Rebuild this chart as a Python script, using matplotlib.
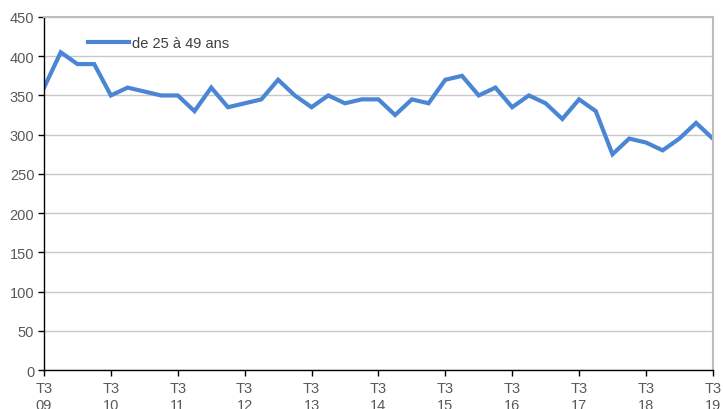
import matplotlib.pyplot as plt

plt.rcParams['font.family'] = ['Liberation Sans', 'DejaVu Sans']

# quarterly values, T3 2009 -> T3 2019
values = [360, 405, 390, 390, 350, 360, 355, 350, 350, 330,
          360, 335, 340, 345, 370, 350, 335, 350, 340, 345,
          345, 325, 345, 340, 370, 375, 350, 360, 335, 350,
          340, 320, 345, 330, 275, 295, 290, 280, 295, 315,
          295]
years = ["09", "10", "11", "12", "13", "14", "15", "16", "17", "18", "19"]
tick_labels = ["T3\n" + y for y in years]
series_name = "de 25 à 49 ans"

fig = plt.figure(figsize=(7.23, 4.10), dpi=100)
ax = fig.add_axes([0.0609, 0.0951, 0.925, 0.861])

x = list(range(len(values)))
ax.plot(x, values, color='#4a86d4', linewidth=3.0, label=series_name,
        solid_joinstyle='miter')

ax.set_xlim(0, 40)
ax.set_ylim(0, 450)
ax.set_yticks(range(0, 451, 50))
ax.set_xticks(range(0, 41, 4))
ax.set_xticklabels(tick_labels, linespacing=1.3)

ax.grid(axis='y', color='#c8c8c8', linewidth=1)
ax.set_axisbelow(True)
for s in ['top', 'right']:
    ax.spines[s].set_color('#bdbdbd')
    ax.spines[s].set_linewidth(1.5)
for s in ['left', 'bottom']:
    ax.spines[s].set_color('black')
    ax.spines[s].set_linewidth(1)

ax.tick_params(axis='both', direction='out', length=4, width=1,
               labelsize=10.5, labelcolor='#595959', color='black')
ax.tick_params(axis='x', pad=4)
ax.tick_params(axis='y', pad=3)

# the second line of the x labels is cut by the figure edge, as in the source
ax.legend(loc='upper left', bbox_to_anchor=(0.046, 0.983), frameon=False,
          fontsize=10.5, handlelength=2.8, handletextpad=0.2,
          labelcolor='#404040')

fig.savefig('out.png', dpi=100)
